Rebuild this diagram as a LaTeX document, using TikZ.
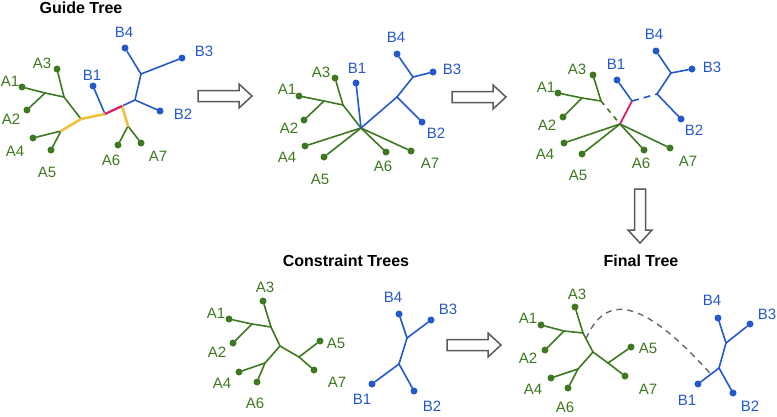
\documentclass[tikz,border=0pt]{standalone}
\usepackage{fontspec}
\setmainfont{Liberation Sans}

\definecolor{grn}{HTML}{3E7820}
\definecolor{blu}{HTML}{2459CC}
\definecolor{guideyellow}{HTML}{F0C03A}
\definecolor{rootpink}{HTML}{D81B6A}
\definecolor{arrowgray}{HTML}{5A5A5A}
\definecolor{dashgray}{HTML}{666666}

\tikzset{
  leafdot/.style={circle, inner sep=0pt, minimum size=7pt},
  leaflbl/.style={inner sep=0pt, font=\fontsize{15}{17}\selectfont},
  paneltitle/.style={inner sep=0pt, font=\bfseries\fontsize{16}{18}\selectfont},
  treeline/.style={line width=1.6pt, line cap=round},
  Aline/.style={treeline, draw=grn},
  Bline/.style={treeline, draw=blu},
  guideline/.style={line width=2.6pt, draw=guideyellow, line cap=round},
  rootline/.style={line width=2.2pt, draw=rootpink},
  blockarrow/.pic={
    \draw[arrowgray, line width=1.5pt, fill=white, line join=miter]
      (0,-5.5) -- (41,-5.5) -- (41,-12) -- (54,0) -- (41,12) -- (41,5.5) -- (0,5.5) -- cycle;
  }
}

\begin{document}
\begin{tikzpicture}[x=1pt, y=-1pt]
\useasboundingbox (0,0) rectangle (777,416);

% titles
\node[paneltitle] (guidetitle) at (81,8) {Guide Tree};
\node[paneltitle] (constrtitle) at (346,261) {Constraint Trees};
\node[paneltitle] (finaltitle) at (641,261) {Final Tree};

% guide tree
\foreach \n/\c/\p/\q in {A1/grn/{22,87}/{10,81}, A2/grn/{27,110}/{11,119}, A3/grn/{57,69}/{42,63},
    A4/grn/{33,138}/{15,151}, A5/grn/{51,150}/{47,172}, A6/grn/{118,145}/{111,160},
    A7/grn/{141,143}/{158,156}, B1/blu/{93,86}/{92,75}, B2/blu/{160,111}/{183,114},
    B3/blu/{182,58}/{204,51}, B4/blu/{125,48}/{124,32}} {
  \node[leafdot, fill=\c] (g\n) at (\p) {};
  \node[leaflbl, text=\c] (g\n-lbl) at (\q) {\n};
}
\coordinate (gA12) at (45,93);
\coordinate (gA123) at (64,97);
\coordinate (gAr) at (81,119);
\coordinate (gA45) at (61,131);
\coordinate (gX) at (105,114);
\coordinate (gY) at (122,106);
\coordinate (gA67) at (128,126);
\coordinate (gB2j) at (135,100);
\coordinate (gB34) at (141,74);
\foreach \a/\b in {A1/A12, A2/A12, A12/A123, A3/A123, A123/Ar, A4/A45, A5/A45, A6/A67, A7/A67}
  \draw[Aline] (g\a) -- (g\b);
\foreach \a/\b in {B1/X, Y/B2j, B2/B2j, B2j/B34, B4/B34, B3/B34}
  \draw[Bline] (g\a) -- (g\b);
\draw[guideline] (gA45) -- (gAr) -- (gX);
\draw[guideline] (gY) -- (gA67);
\draw[rootline] (gX) -- (gY);

% merged tree
\foreach \n/\c/\p/\q in {A1/grn/{299,96}/{287,89}, A2/grn/{304,120}/{289,128}, A3/grn/{335,78}/{321,72},
    A4/grn/{305,146}/{287,157}, A5/grn/{324,157}/{320,179}, A6/grn/{386,152}/{383,166},
    A7/grn/{411,151}/{430,163}, B1/blu/{356,83}/{357,68}, B2/blu/{422,122}/{436,133},
    B3/blu/{433,72}/{452,69}, B4/blu/{397,54}/{396,37}} {
  \node[leafdot, fill=\c] (m\n) at (\p) {};
  \node[leaflbl, text=\c] (m\n-lbl) at (\q) {\n};
}
\coordinate (mA12) at (324,101);
\coordinate (mA123) at (343,105);
\coordinate (mC) at (361,128);
\coordinate (mB2j) at (397,97);
\coordinate (mB34) at (413,77);
\foreach \a/\b in {A1/A12, A2/A12, A12/A123, A3/A123, A123/C, A4/C, A5/C, A6/C, A7/C}
  \draw[Aline] (m\a) -- (m\b);
\foreach \a/\b in {B1/C, C/B2j, B2/B2j, B2j/B34, B4/B34, B3/B34}
  \draw[Bline] (m\a) -- (m\b);

% split tree
\foreach \n/\c/\p/\q in {A1/grn/{558,93}/{546,87}, A2/grn/{563,117}/{547,125}, A3/grn/{593,75}/{577,69},
    A4/grn/{564,143}/{545,154}, A5/grn/{582,154}/{578,175}, A6/grn/{644,150}/{641,163},
    A7/grn/{670,148}/{688,161}, B1/blu/{617,80}/{616,64}, B2/blu/{681,119}/{694,130},
    B3/blu/{692,69}/{712,67}, B4/blu/{656,51}/{654,34}} {
  \node[leafdot, fill=\c] (s\n) at (\p) {};
  \node[leaflbl, text=\c] (s\n-lbl) at (\q) {\n};
}
\coordinate (sA12) at (582,98);
\coordinate (sA123) at (601,101);
\coordinate (sC) at (620,124);
\coordinate (sBr) at (632,101);
\coordinate (sB2j) at (657,94);
\coordinate (sB34) at (671,73);
\foreach \a/\b in {A1/A12, A2/A12, A12/A123, A3/A123, A4/C, A5/C, A6/C, A7/C}
  \draw[Aline] (s\a) -- (s\b);
\foreach \a/\b in {B1/Br, B2/B2j, B2j/B34, B4/B34, B3/B34}
  \draw[Bline] (s\a) -- (s\b);
\draw[Aline, line cap=butt, dash pattern=on 5pt off 5pt] (sA123) -- (sC);
\draw[Bline, line cap=butt, dash pattern=on 7pt off 5pt] (sBr) -- (sB2j);
\draw[rootline, line width=1.8pt] (sC) -- (sBr);

% constraint trees
\foreach \n/\c/\p/\q in {A1/grn/{229,319}/{216,313}, A2/grn/{233,343}/{217,352}, A3/grn/{263,301}/{265,287},
    A4/grn/{239,372}/{222,383}, A5/grn/{320,341}/{336,343}, A6/grn/{257,382}/{255,403},
    A7/grn/{314,370}/{337,382}, B1/blu/{372,384}/{362,399}, B2/blu/{414,391}/{432,406},
    B3/blu/{431,320}/{448,309}, B4/blu/{399,314}/{393,297}} {
  \node[leafdot, fill=\c] (c\n) at (\p) {};
  \node[leaflbl, text=\c] (c\n-lbl) at (\q) {\n};
}
\coordinate (cA12) at (252,324);
\coordinate (cA123) at (271,327);
\coordinate (cC) at (280,346);
\coordinate (cA46) at (265,363);
\coordinate (cA57) at (299,357);
\coordinate (cB34) at (407,338);
\coordinate (cB12) at (399,364);
\foreach \a/\b in {A1/A12, A2/A12, A12/A123, A3/A123, A123/C, C/A46, A4/A46, A6/A46, C/A57, A5/A57, A7/A57}
  \draw[Aline] (c\a) -- (c\b);
\foreach \a/\b in {B4/B34, B3/B34, B34/B12, B1/B12, B2/B12}
  \draw[Bline] (c\a) -- (c\b);

% final tree
\foreach \n/\c/\p/\q in {A1/grn/{541,325}/{528,318}, A2/grn/{545,350}/{528,358}, A3/grn/{575,307}/{577,294},
    A4/grn/{551,378}/{533,389}, A5/grn/{631,347}/{648,348}, A6/grn/{568,388}/{565,407},
    A7/grn/{625,376}/{648,389}, B1/blu/{698,384}/{687,400}, B2/blu/{733,393}/{750,406},
    B3/blu/{750,324}/{767,314}, B4/blu/{718,318}/{712,300}} {
  \node[leafdot, fill=\c] (f\n) at (\p) {};
  \node[leaflbl, text=\c] (f\n-lbl) at (\q) {\n};
}
\coordinate (fA12) at (564,331);
\coordinate (fA123) at (583,333);
\coordinate (fC) at (593,352);
\coordinate (fA46) at (578,369);
\coordinate (fA57) at (608,363);
\coordinate (fB34) at (726,343);
\coordinate (fB12) at (719,368);
\foreach \a/\b in {A1/A12, A2/A12, A12/A123, A3/A123, A123/C, C/A46, A4/A46, A6/A46, C/A57, A5/A57, A7/A57}
  \draw[Aline] (f\a) -- (f\b);
\foreach \a/\b in {B4/B34, B3/B34, B34/B12, B1/B12, B2/B12}
  \draw[Bline] (f\a) -- (f\b);
\path (fA123) -- (fC) coordinate[pos=0.3] (fS);
\path (fB12) -- (fB1) coordinate[pos=0.45] (fE);
\draw[dashgray, line width=1.4pt, dash pattern=on 6pt off 5pt]
  (fS) .. controls (605,295) and (640,295) .. (fE);

% block arrows
\pic at (198,96) {blockarrow};
\pic at (452,97) {blockarrow};
\pic at (447,345) {blockarrow};
\pic[rotate=-90] at (640,189) {blockarrow};
\end{tikzpicture}
\end{document}
